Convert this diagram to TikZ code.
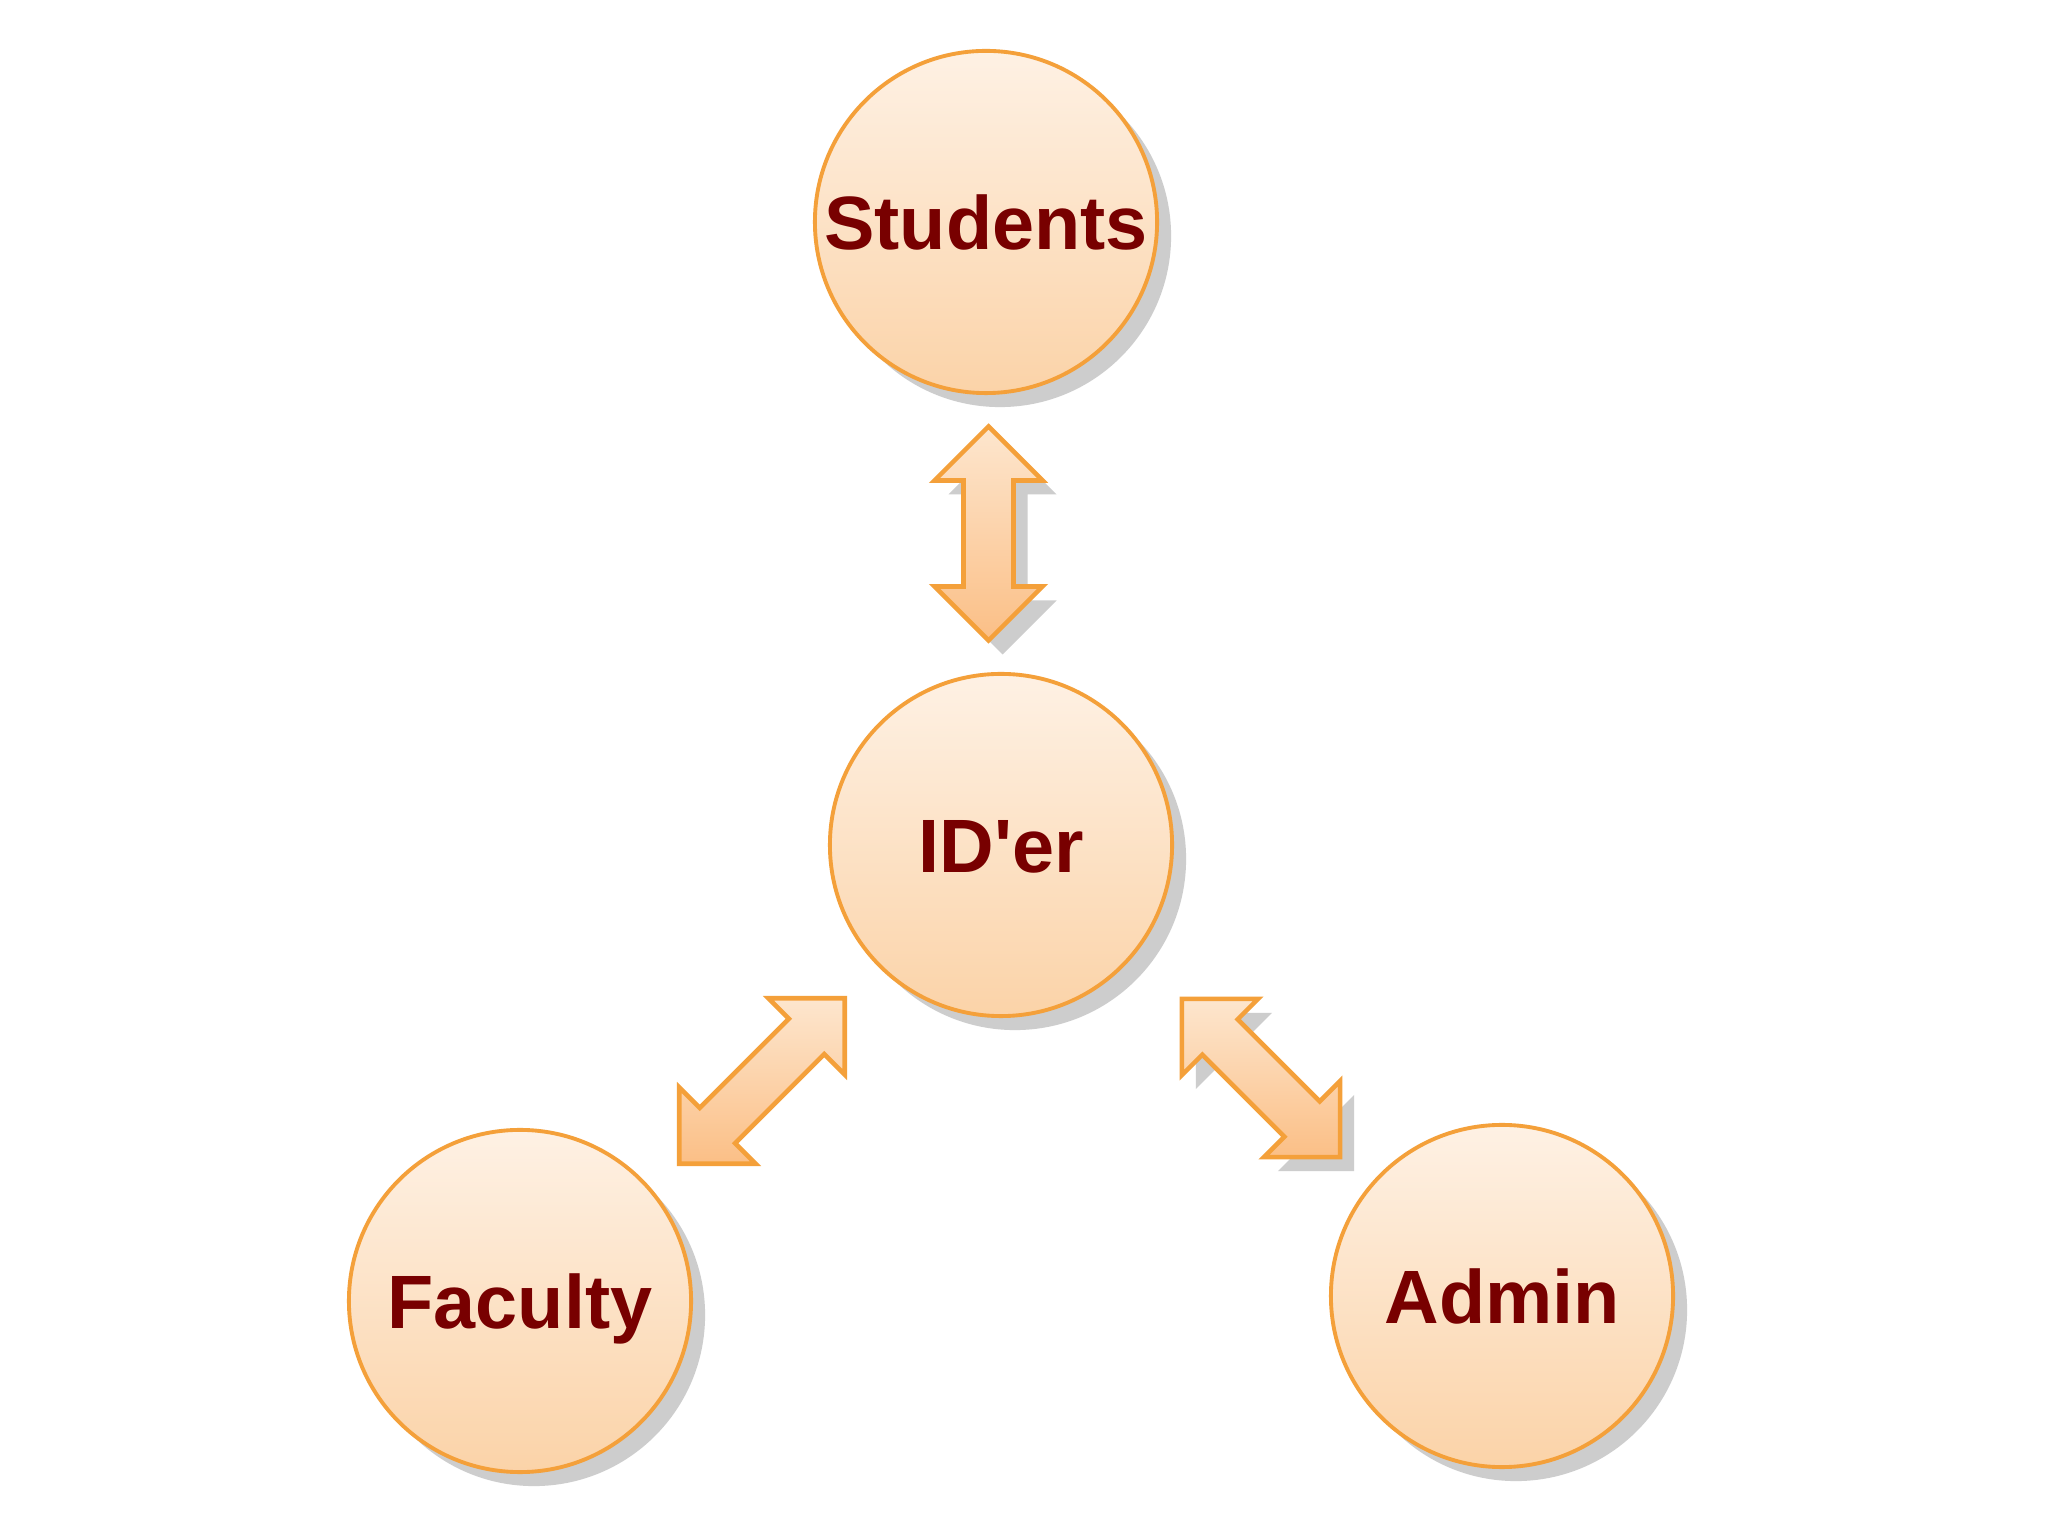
\documentclass[tikz,border=0pt]{standalone}
\usepackage{fontspec}
\newfontfamily\lblfont{Liberation Sans}
\usetikzlibrary{calc}
\definecolor{ring}{HTML}{F4A03A}
\definecolor{ctop}{HTML}{FEF1E4}
\definecolor{cbot}{HTML}{FBD3A8}
\definecolor{atop}{HTML}{FDE6CE}
\definecolor{abot}{HTML}{FBBF86}
\definecolor{shad}{HTML}{CDCDCD}
\definecolor{txt}{HTML}{780000}
% point (#1,#2) of a frame turned by #3 degrees
\newcommand\ap[3]{({(#1)*cos(#3)-(#2)*sin(#3)},{(#1)*sin(#3)+(#2)*cos(#3)})}
% double arrow outline: #1 angle, #2 half length
\newcommand\arrpoly[2]{\ap{#2}{0}{#1} -- \ap{#2-54}{54}{#1} -- \ap{#2-54}{25}{#1} -- \ap{-#2+54}{25}{#1} -- \ap{-#2+54}{54}{#1} -- \ap{-#2}{0}{#1} -- \ap{-#2+54}{-54}{#1} -- \ap{-#2+54}{-25}{#1} -- \ap{#2-54}{-25}{#1} -- \ap{#2-54}{-54}{#1} -- cycle}
\tikzset{
  party/.style={circle, minimum size=3.42cm, inner sep=0pt, draw=ring, line width=1.1pt,
    top color=ctop, bottom color=cbot, text=txt,
    font=\lblfont\bfseries\fontsize{21.5}{26}\selectfont, text height=15.4pt, text depth=0pt},
  circshadow/.style={fill=shad},
  arrowbody/.style={draw=ring, line width=1.3pt, line join=miter, top color=atop, bottom color=abot},
  arrowshadow/.style={fill=shad},
}
\begin{document}
\begin{tikzpicture}[x=0.01cm, y=0.01cm]
\useasboundingbox[fill=white] (0,0) rectangle (2048,1536);
% centres
\coordinate (cstu) at (986,1314);
\coordinate (cid)  at (1001,691);
\coordinate (cfac) at (520,235);
\coordinate (cadm) at (1502,240);
% circle shadows
\foreach \c in {cstu,cid,cfac,cadm}
  \fill[circshadow] ($(\c)+(14,-14)$) circle[radius=1.71cm];
% circles
\node[party] (stu) at (cstu) {Students};
\node[party] (ider) at (cid) {ID'er};
\node[party] (fac) at (cfac) {Faculty};
\node[party] (adm) at (cadm) {Admin};
% arrow centres between the nodes
\coordinate (a1) at ($(stu)!0.5!(ider)+(-5,0)$);
\coordinate (a2) at ($(ider)!0.5!(fac)+(1.5,-8)$);
\coordinate (a3) at ($(ider)!0.5!(adm)+(9.5,-7.5)$);
% arrow shadows
\begin{scope}[shift={($(a1)+(14,-14)$)}] \fill[arrowshadow] \arrpoly{90}{107}; \end{scope}
\begin{scope}[shift={($(a3)+(14,-14)$)}] \fill[arrowshadow] \arrpoly{135}{112}; \end{scope}
% arrows
\begin{scope}[shift={(a1)}] \path[arrowbody] \arrpoly{90}{107}; \end{scope}
\begin{scope}[shift={(a2)}] \path[arrowbody] \arrpoly{45}{117}; \end{scope}
\begin{scope}[shift={(a3)}] \path[arrowbody] \arrpoly{135}{112}; \end{scope}
\end{tikzpicture}
\end{document}
